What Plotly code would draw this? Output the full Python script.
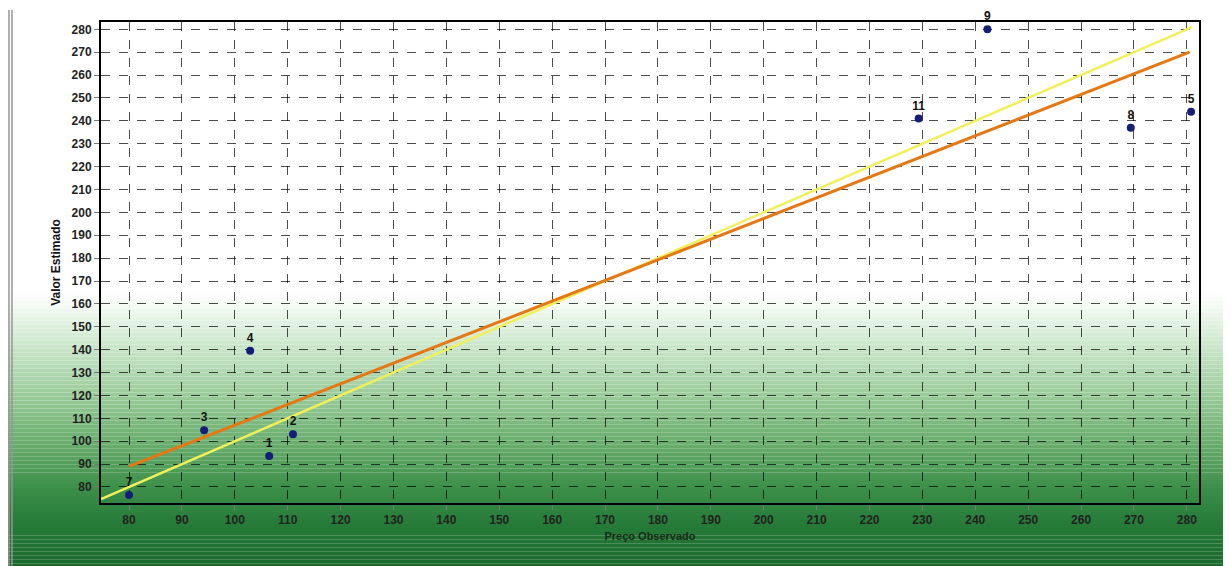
import plotly.graph_objects as go

# ---- data ----
labels = ["7", "3", "4", "1", "2", "11", "9", "8", "5"]
observed = [80.0, 94.2, 102.9, 106.5, 111.0, 229.3, 242.3, 269.4, 280.8]
estimated = [76.5, 104.8, 139.5, 93.5, 103.0, 241.0, 280.0, 237.0, 244.0]

reg_x = [80, 280.5]
reg_y = [89, 270]
ident_x = [74.7, 281]
ident_y = [74.7, 281]

x_ticks = list(range(80, 290, 10))
y_ticks = list(range(80, 290, 10))

# ---- layout geometry (page has an 8px body margin) ----
OFF = 8
W, H = 1231 - OFF, 566 - OFF
L, R, T, B = 101 - OFF, 32, 20 - OFF, 63
pw, ph = W - L - R, H - T - B

def px_to_paper_y(y):
    # y in screen pixels
    return (H - B - (y - OFF)) / ph

def px_to_paper_x(x):
    return ((x - OFF) - L) / pw

# gradient stops (screen pixel y, rgb)
stops = [(0, (255, 255, 255)), (290, (255, 255, 255)), (305, (244, 250, 244)),
         (330, (218, 238, 218)), (360, (188, 222, 188)), (400, (148, 200, 148)),
         (450, (98, 168, 102)), (490, (58, 142, 72)), (520, (40, 125, 58)),
         (566, (28, 105, 45))]

def color_at(y):
    for (y0, c0), (y1, c1) in zip(stops[:-1], stops[1:]):
        if y0 <= y <= y1:
            t = (y - y0) / (y1 - y0) if y1 > y0 else 0
            return tuple(int(round(a + (b - a) * t)) for a, b in zip(c0, c1))
    return stops[-1][1]

shapes = []
step = 4
for y in range(OFF, 566, step):
    c = color_at(y + step / 2)
    shapes.append(dict(type="rect", xref="paper", yref="paper",
                       x0=px_to_paper_x(OFF), x1=px_to_paper_x(1231),
                       y0=px_to_paper_y(y + step), y1=px_to_paper_y(y),
                       fillcolor="rgb(%d,%d,%d)" % c, line=dict(width=0),
                       layer="below"))
# left border double line
for xx in (9, 12):
    shapes.append(dict(type="line", xref="paper", yref="paper",
                       x0=px_to_paper_x(xx), x1=px_to_paper_x(xx),
                       y0=px_to_paper_y(566), y1=px_to_paper_y(OFF),
                       line=dict(color="rgb(150,150,150)", width=1.5)))

fig = go.Figure()
fig.add_trace(go.Scatter(x=ident_x, y=ident_y, mode="lines",
                         line=dict(color="rgb(240,240,90)", width=2.5),
                         hoverinfo="skip", showlegend=False))
fig.add_trace(go.Scatter(x=reg_x, y=reg_y, mode="lines",
                         line=dict(color="rgb(230,120,20)", width=3),
                         hoverinfo="skip", showlegend=False))
fig.add_trace(go.Scatter(x=observed, y=estimated, mode="markers+text",
                         text=labels, textposition="top center",
                         textfont=dict(family="Arial", size=12, color="#111",
                                       weight="bold"),
                         marker=dict(color="rgb(20,30,120)", size=8),
                         showlegend=False, cliponaxis=False))

grid = dict(showgrid=True, gridcolor="rgba(0,0,0,0.7)", griddash="dash",
            gridwidth=1, zeroline=False, showline=True, linecolor="black",
            linewidth=2, mirror=True, ticks="outside", ticklen=5,
            tickcolor="rgb(120,120,120)",
            tickfont=dict(family="Arial", size=12, color="#222", weight="bold"))

fig.update_xaxes(range=[74.7, 282.3], tickvals=x_ticks, **grid,
                 title=dict(text="<b>Preço Observado</b>",
                            font=dict(family="Arial", size=11, color="#1a2a1a"),
                            standoff=6))
fig.update_yaxes(range=[73, 283.2], tickvals=y_ticks, **grid,
                 title=dict(text="<b>Valor Estimado</b>",
                            font=dict(family="Arial", size=12, color="#111"),
                            standoff=8))

fig.update_layout(width=W, height=H,
                  margin=dict(l=L, r=R, t=T, b=B),
                  paper_bgcolor="white", plot_bgcolor="rgba(0,0,0,0)",
                  shapes=shapes, font=dict(family="Arial"))

fig.write_html("out.html")
